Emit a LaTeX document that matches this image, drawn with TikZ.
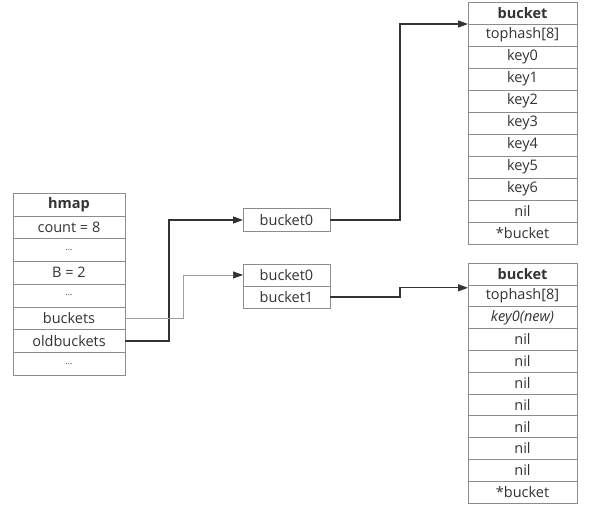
\documentclass[tikz,border=0pt]{standalone}
\usepackage{fontspec}
\setmainfont{Open Sans}
\usepackage[HTML]{xcolor}
\usetikzlibrary{positioning, arrows, arrows.meta}
\definecolor{boxline}{HTML}{8C8C8C}
\definecolor{ink}{HTML}{333333}
\newcommand{\rowgap}{{\fontsize{8.5}{9}\selectfont...}}

\begin{document}
\begin{tikzpicture}[x=1pt,y=-1pt,
  cell/.style={draw=boxline,fill=white,text=ink,inner sep=0pt,outer sep=0pt,
    font=\fontsize{14.5}{16}\selectfont},
  link/.style={-{Triangle[length=10pt,width=7pt]},ink,line width=1.3pt},
  thinlink/.style={-{Triangle[length=10pt,width=7pt,color=ink]},gray!75,line width=0.7pt}]
\useasboundingbox (0,0) rectangle (593,510);
% hmap struct
\foreach \t [count=\i from 0] in {\textbf{hmap},count = 8,\rowgap,B = 2,\rowgap,buckets,oldbuckets,\rowgap}{
\node[cell,minimum width=112pt,minimum height=22.75pt] (hm\i) at (69,204.4+22.75*\i) {\t};
}
% bucket arrays
\node[cell,minimum width=87pt,minimum height=23pt] (nb) at (286.5,220) {bucket0};
\node[cell,minimum width=87pt,minimum height=22pt] (ba0) at (286.5,275) {bucket0};
\node[cell,minimum width=87pt,minimum height=22pt] (ba1) at (286.5,297) {bucket1};
% upper bucket
\foreach \t [count=\i from 0] in {\textbf{bucket},tophash[8],key0,key1,key2,key3,key4,key5,key6,nil,*bucket}{
\node[cell,minimum width=109pt,minimum height=22pt] (ta\i) at (522.5,13+22*\i) {\t};
}
% lower bucket
\foreach \t [count=\i from 0] in {\textbf{bucket},tophash[8],\textit{key0(new)},nil,nil,nil,nil,nil,nil,nil,*bucket}{
\node[cell,minimum width=109pt,minimum height=21.8pt] (tb\i) at (522.5,273.9+21.8*\i) {\t};
}
% pointers
\draw[link] (hm6.east) -- ++(44,0) |- (nb.west);
\draw[thinlink] (hm5.east) -- ++(58,0) |- (ba0.west);
\draw[link] (nb.east) -- ++(70,0) |- (ta0.south west);
\draw[link] (ba1.east) -- ++(70,0) |- ([yshift=-3pt]tb0.south west);
\end{tikzpicture}
\end{document}
